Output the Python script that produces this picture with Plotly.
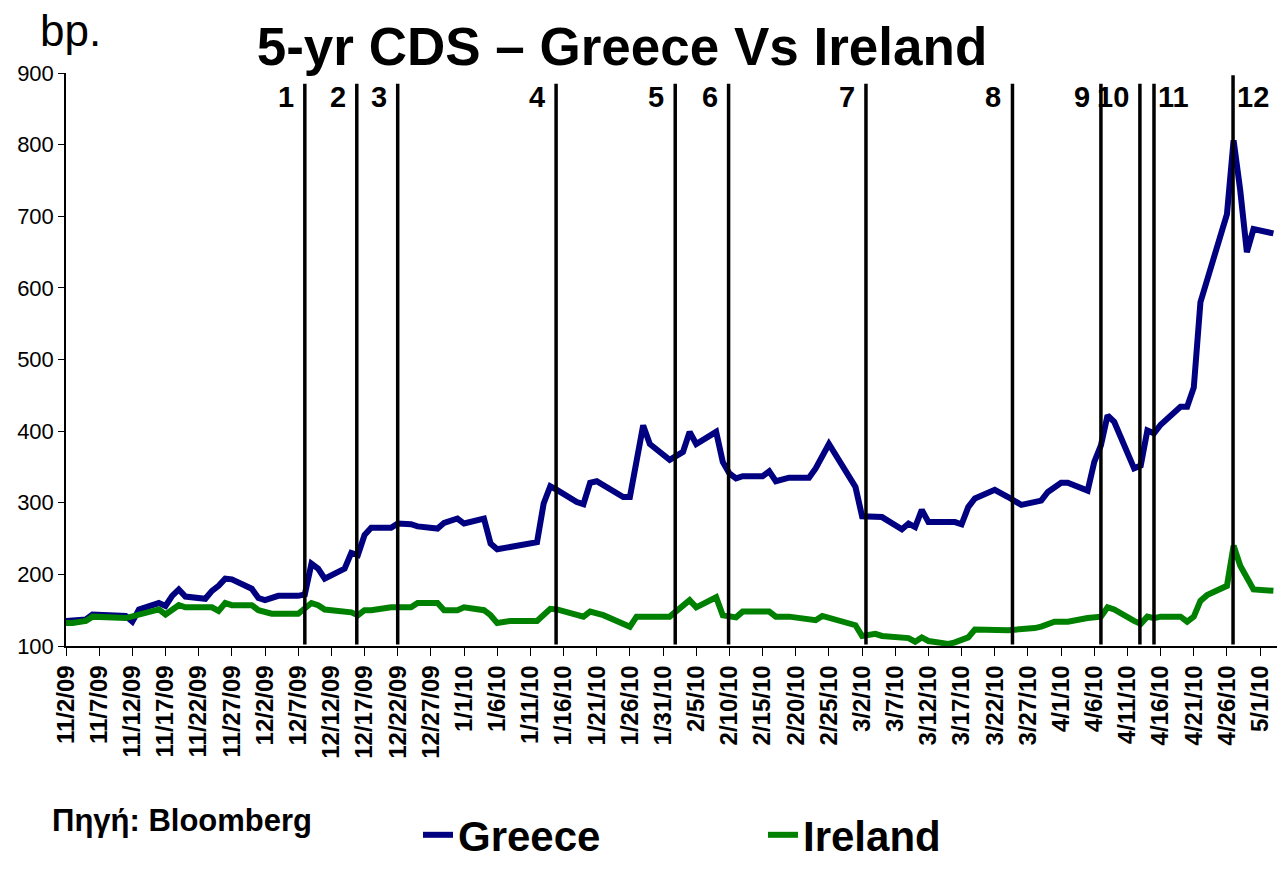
import plotly.graph_objects as go

# 5-year CDS spreads (basis points)
greece_dates = [
    "2009-11-02", "2009-11-05", "2009-11-06", "2009-11-11", "2009-11-12", "2009-11-13",
    "2009-11-16", "2009-11-17", "2009-11-18", "2009-11-19", "2009-11-20", "2009-11-23",
    "2009-11-24", "2009-11-25", "2009-11-26", "2009-11-27", "2009-11-30", "2009-12-01",
    "2009-12-02", "2009-12-04", "2009-12-07", "2009-12-08", "2009-12-09", "2009-12-10",
    "2009-12-11", "2009-12-14", "2009-12-15", "2009-12-16", "2009-12-17", "2009-12-18",
    "2009-12-21", "2009-12-22", "2009-12-24", "2009-12-25", "2009-12-28", "2009-12-29",
    "2009-12-31", "2010-01-01", "2010-01-04", "2010-01-05", "2010-01-06", "2010-01-08",
    "2010-01-11", "2010-01-12", "2010-01-13", "2010-01-14", "2010-01-15", "2010-01-18",
    "2010-01-19", "2010-01-20", "2010-01-21", "2010-01-22", "2010-01-25", "2010-01-26",
    "2010-01-27", "2010-01-28", "2010-01-29", "2010-02-01", "2010-02-03", "2010-02-04",
    "2010-02-05", "2010-02-08", "2010-02-09", "2010-02-10", "2010-02-11", "2010-02-12",
    "2010-02-15", "2010-02-16", "2010-02-17", "2010-02-19", "2010-02-22", "2010-02-23",
    "2010-02-25", "2010-03-01", "2010-03-02", "2010-03-05", "2010-03-08", "2010-03-09",
    "2010-03-10", "2010-03-11", "2010-03-12", "2010-03-16", "2010-03-17", "2010-03-18",
    "2010-03-19", "2010-03-22", "2010-03-24", "2010-03-26", "2010-03-29", "2010-03-30",
    "2010-04-01", "2010-04-02", "2010-04-05", "2010-04-06", "2010-04-07", "2010-04-08",
    "2010-04-09", "2010-04-12", "2010-04-13", "2010-04-14", "2010-04-15", "2010-04-16",
    "2010-04-19", "2010-04-20", "2010-04-21", "2010-04-22", "2010-04-26", "2010-04-27",
    "2010-04-28", "2010-04-29", "2010-04-30", "2010-05-03",
]
greece_cds = [
    135, 137, 144, 142, 134, 151,
    160, 156, 170, 179, 169, 166,
    177, 184, 194, 193, 180, 167,
    164, 170, 170, 172, 215, 208,
    194, 208, 230, 227, 255, 265,
    265, 271, 270, 267, 264, 272,
    278, 271, 278, 243, 235, 238,
    242, 245, 299, 323, 318, 301,
    298, 328, 330, 324, 308, 308,
    362, 408, 382, 360, 371, 399,
    382, 399, 357, 341, 334, 337,
    337, 344, 330, 335, 335, 348,
    382, 322, 281, 280, 263, 271,
    266, 290, 273, 273, 270, 294,
    306, 318, 308, 297, 303, 315,
    328, 328, 317, 357, 380, 422,
    413, 348, 352, 401, 397, 409,
    434, 434, 461, 580, 703, 806,
    736, 650, 682, 676,
]

ireland_dates = [
    "2009-11-02", "2009-11-03", "2009-11-05", "2009-11-06", "2009-11-11", "2009-11-13",
    "2009-11-16", "2009-11-17", "2009-11-19", "2009-11-20", "2009-11-24", "2009-11-25",
    "2009-11-26", "2009-11-27", "2009-11-30", "2009-12-01", "2009-12-03", "2009-12-07",
    "2009-12-09", "2009-12-10", "2009-12-11", "2009-12-15", "2009-12-16", "2009-12-17",
    "2009-12-18", "2009-12-21", "2009-12-24", "2009-12-25", "2009-12-28", "2009-12-29",
    "2009-12-31", "2010-01-01", "2010-01-04", "2010-01-05", "2010-01-06", "2010-01-08",
    "2010-01-12", "2010-01-14", "2010-01-15", "2010-01-19", "2010-01-20", "2010-01-22",
    "2010-01-25", "2010-01-26", "2010-01-27", "2010-02-01", "2010-02-04", "2010-02-05",
    "2010-02-08", "2010-02-09", "2010-02-11", "2010-02-12", "2010-02-16", "2010-02-17",
    "2010-02-19", "2010-02-22", "2010-02-23", "2010-02-24", "2010-03-01", "2010-03-02",
    "2010-03-04", "2010-03-05", "2010-03-09", "2010-03-10", "2010-03-11", "2010-03-12",
    "2010-03-15", "2010-03-16", "2010-03-18", "2010-03-19", "2010-03-24", "2010-03-28",
    "2010-03-29", "2010-03-31", "2010-04-02", "2010-04-05", "2010-04-07", "2010-04-08",
    "2010-04-09", "2010-04-12", "2010-04-13", "2010-04-14", "2010-04-15", "2010-04-16",
    "2010-04-19", "2010-04-20", "2010-04-21", "2010-04-22", "2010-04-23", "2010-04-26",
    "2010-04-27", "2010-04-28", "2010-04-30", "2010-05-03",
]
ireland_cds = [
    132, 132, 135, 141, 139, 144,
    151, 144, 157, 154, 154, 149,
    160, 157, 157, 150, 145, 145,
    160, 157, 151, 147, 143, 150,
    150, 154, 154, 160, 160, 150,
    150, 154, 150, 143, 132, 135,
    135, 152, 151, 141, 148, 143,
    132, 127, 141, 141, 164, 154,
    168, 143, 140, 148, 148, 141,
    141, 136, 136, 142, 129, 114,
    117, 114, 111, 106, 112, 107,
    103, 105, 112, 123, 122, 125,
    127, 134, 134, 139, 141, 154,
    151, 135, 131, 141, 139, 141,
    141, 134, 141, 163, 171, 184,
    240, 212, 179, 177,
]

# Numbered events marked with vertical lines
event_labels = ["1", "2", "3", "4", "5", "6", "7", "8", "9", "10", "11", "12"]
event_dates = [
    "2009-12-08 00:00", "2009-12-15 20:00", "2009-12-22 00:00", "2010-01-14 21:00",
    "2010-02-01 20:00", "2010-02-09 21:00", "2010-03-02 14:00", "2010-03-24 16:00",
    "2010-04-07 00:00", "2010-04-12 21:00", "2010-04-15 00:00", "2010-04-26 22:00",
]
event_label_side = ["left"] * 10 + ["right", "right"]

y_ticks = [100, 200, 300, 400, 500, 600, 700, 800, 900]

FONT = "Liberation Sans, Arial, sans-serif"

# page geometry used to place free-standing text
W, H = 1277, 869
ML, MR, MT, MB = 66, 0, 73, 223
PW, PH = W - ML - MR, H - MT - MB


def px_to_paper(px, py):
    return (px - ML) / PW, (H - MB - py) / PH


fig = go.Figure()
fig.add_trace(go.Scatter(
    x=greece_dates, y=greece_cds, name="Greece", mode="lines",
    line=dict(color="#000080", width=6),
))
fig.add_trace(go.Scatter(
    x=ireland_dates, y=ireland_cds, name="Ireland", mode="lines",
    line=dict(color="#008000", width=6),
))

for i, (d, lab, side) in enumerate(zip(event_dates, event_labels, event_label_side)):
    top = 897 if i == len(event_dates) - 1 else 885
    fig.add_shape(type="line", xref="x", yref="y", x0=d, x1=d, y0=102, y1=top,
                  line=dict(color="black", width=3.5), layer="above")
    fig.add_annotation(
        x=d, y=866, xref="x", yref="y", text=lab, showarrow=False,
        xanchor="right" if side == "left" else "left",
        xshift=-9 if side == "left" else 2,
        font=dict(family=FONT, size=29, color="black", weight="bold"),
    )

bx, by = px_to_paper(38, 30)
fig.add_annotation(
    xref="paper", yref="paper", x=bx, y=by,
    xanchor="left", yanchor="middle", text="bp.", showarrow=False,
    font=dict(family=FONT, size=44, color="black"),
)
sx, sy = px_to_paper(50, 820)
fig.add_annotation(
    xref="paper", yref="paper", x=sx, y=sy,
    xanchor="left", yanchor="middle", text="Πηγή: Bloomberg", showarrow=False,
    font=dict(family=FONT, size=31, color="black", weight="bold"),
)

fig.update_layout(
    width=W, height=H,
    margin=dict(l=ML, r=MR, t=MT, b=MB),
    paper_bgcolor="white", plot_bgcolor="white",
    title=dict(
        text="5-yr CDS – Greece Vs Ireland",
        xref="container", yref="container", x=622 / W, y=1 - 46 / H,
        xanchor="center", yanchor="middle",
        font=dict(family=FONT, size=53, color="black", weight="bold"),
    ),
    showlegend=True,
    legend=dict(
        orientation="h", xref="container", yref="container",
        x=418 / W, y=0.0, xanchor="left", yanchor="bottom",
        font=dict(family=FONT, size=42, color="black", weight="bold"),
        bgcolor="rgba(0,0,0,0)", entrywidth=300, tracegroupgap=0,
    ),
    xaxis=dict(
        type="date", range=["2009-11-02", "2010-05-03 13:00"],
        tick0="2009-11-02", dtick=5 * 86400000, tickformat="%-m/%-d/%y",
        tickangle=-90, ticks="outside", ticklen=8, tickcolor="black",
        showline=True, linecolor="black", linewidth=1.5, showgrid=False,
        zeroline=False,
        tickfont=dict(family=FONT, size=24, color="black", weight="bold"),
    ),
    yaxis=dict(
        range=[100, 900], tickvals=y_ticks, ticks="outside", ticklen=6,
        tickcolor="black", showline=True, linecolor="black", linewidth=1.5,
        showgrid=False, zeroline=False,
        tickfont=dict(family=FONT, size=22, color="black"),
    ),
)

fig.write_html("out.html")
